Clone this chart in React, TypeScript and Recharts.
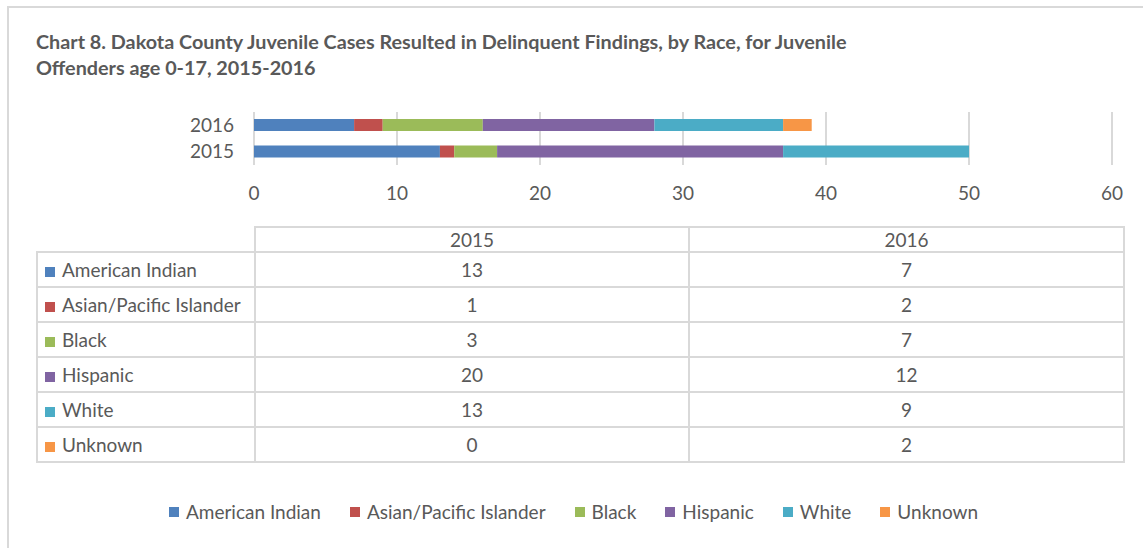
import { BarChart, Bar, XAxis, YAxis, CartesianGrid } from "recharts";

const years = ["2015", "2016"];
const races = ["American Indian", "Asian/Pacific Islander", "Black", "Hispanic", "White", "Unknown"];
const raceColors = ["#4f81bd", "#c0504d", "#9bbb59", "#8064a2", "#4bacc6", "#f79646"];
const cases2015 = [13, 1, 3, 20, 13, 0];
const cases2016 = [7, 2, 7, 12, 9, 2];
const xTicks = [0, 10, 20, 30, 40, 50, 60];

const FONT = "Lato, 'Open Sans', sans-serif";
const TEXT = "#595959";
const LINE = "#d9d9d9";

const valuesByYear = [cases2015, cases2016];
const data = years.map((year, yi) => {
  const row: Record<string, string | number> = { year };
  races.forEach((race, ri) => {
    row[race] = valuesByYear[yi][ri];
  });
  return row;
});

function Swatch({ color }: { color: string }) {
  return (
    <span
      style={{
        display: "inline-block",
        width: 10,
        height: 10,
        background: color,
        marginRight: 7,
      }}
    />
  );
}

export default function App() {
  const cell: React.CSSProperties = {
    border: `2px solid ${LINE}`,
    textAlign: "center",
    padding: 0,
    height: 33,
  };
  return (
    <div
      style={{
        position: "absolute",
        left: 0,
        top: 0,
        width: 1143,
        height: 548,
        background: "#fff",
        fontFamily: FONT,
        color: TEXT,
        overflow: "hidden",
      }}
    >
      {/* chart frame, cropped on the right and bottom */}
      <div
        style={{
          position: "absolute",
          left: 7,
          top: 6,
          width: 1200,
          height: 600,
          borderTop: `2px solid ${LINE}`,
          borderLeft: `2px solid ${LINE}`,
        }}
      />
      <div
        style={{
          position: "absolute",
          left: 36,
          top: 28,
          fontSize: 19.8,
          fontWeight: 700,
          lineHeight: "26px",
          whiteSpace: "nowrap",
        }}
      >
        Chart 8. Dakota County Juvenile Cases Resulted in Delinquent Findings, by Race, for Juvenile
        <br />
        Offenders age 0-17, 2015-2016
      </div>

      <div style={{ position: "absolute", left: 0, top: 0 }}>
        <BarChart
          width={1143}
          height={548}
          data={data}
          layout="vertical"
          barSize={12}
          margin={{ top: 112, right: 31, bottom: 353, left: 0 }}
        >
          <CartesianGrid horizontal={false} stroke={LINE} strokeWidth={2} />
          <XAxis
            type="number"
            domain={[0, 60]}
            ticks={xTicks}
            height={30}
            axisLine={false}
            tickLine={false}
            tickSize={0}
            tickMargin={22}
            tick={{ fill: TEXT, fontSize: 19, fontFamily: FONT }}
          />
          <YAxis
            type="category"
            dataKey="year"
            reversed
            interval={0}
            width={254}
            axisLine={false}
            tickLine={false}
            tickSize={0}
            tickMargin={20}
            tick={{ fill: TEXT, fontSize: 19, fontFamily: FONT }}
          />
          {races.map((race, i) => (
            <Bar
              key={race}
              dataKey={race}
              stackId="a"
              fill={raceColors[i]}
              isAnimationActive={false}
            />
          ))}
        </BarChart>
      </div>

      <table
        style={{
          position: "absolute",
          left: 36,
          top: 226,
          borderCollapse: "collapse",
          tableLayout: "fixed",
          width: 1087,
          fontSize: 19,
          color: TEXT,
          fontFamily: FONT,
        }}
      >
        <colgroup>
          <col style={{ width: 218 }} />
          <col style={{ width: 434 }} />
          <col style={{ width: 435 }} />
        </colgroup>
        <thead>
          <tr>
            <th style={{ border: "none", padding: 0, height: 23 }} />
            {years.map((y) => (
              <th key={y} style={{ ...cell, height: 23, fontWeight: 400 }}>
                {y}
              </th>
            ))}
          </tr>
        </thead>
        <tbody>
          {races.map((race, ri) => (
            <tr key={race}>
              <td style={{ ...cell, textAlign: "left", paddingLeft: 7, whiteSpace: "nowrap" }}>
                <Swatch color={raceColors[ri]} />
                {race}
              </td>
              {valuesByYear.map((vals, yi) => (
                <td key={yi} style={cell}>
                  {vals[ri]}
                </td>
              ))}
            </tr>
          ))}
        </tbody>
      </table>

      <div
        style={{
          position: "absolute",
          left: 0,
          top: 500,
          width: 1143,
          display: "flex",
          justifyContent: "center",
          gap: 29,
          fontSize: 19,
          lineHeight: "24px",
          paddingLeft: 2,
        }}
      >
        {races.map((race, i) => (
          <span key={race} style={{ display: "inline-flex", alignItems: "center" }}>
            <Swatch color={raceColors[i]} />
            {race}
          </span>
        ))}
      </div>
    </div>
  );
}
